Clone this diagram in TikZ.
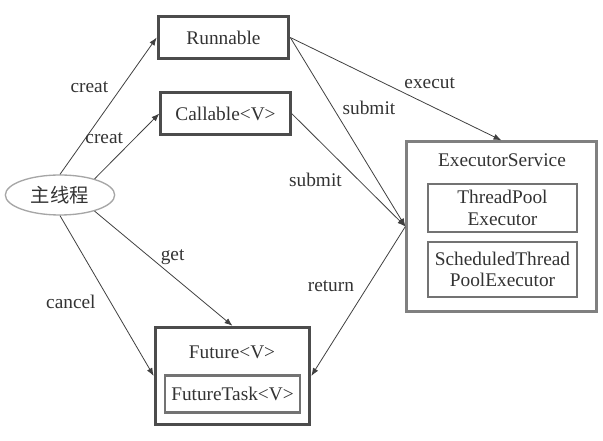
\documentclass[tikz,border=0pt]{standalone}
\usepackage{fontspec}
\setmainfont{Liberation Serif}
\newfontfamily\cjk{Noto Sans CJK SC}
\usetikzlibrary{arrows.meta}
\usetikzlibrary{shapes.geometric}

\begin{document}
\begin{tikzpicture}[x = 0.75pt, y = -0.75pt, font = \rmfamily\fontsize{14.5}{17}\selectfont, text = black!80]
  \tikzstyle{box}=[rectangle, draw = black!70, line width = 2.2pt, inner sep = 0pt, align = center]
  \tikzstyle{inbox}=[rectangle, draw = black!55, line width = 1.8pt, inner sep = 0pt, align = center]
  \tikzstyle{outer}=[rectangle, draw = black!50, line width = 2.2pt, inner sep = 0pt]
  \tikzstyle{thread}=[ellipse, draw = black!35, line width = 1pt, inner sep = 0pt, font = \cjk\fontsize{14.5}{17}\selectfont]
  \tikzstyle{connect}=[-{Latex[length = 6pt, width = 4.5pt]}, draw = black!75, line width = 0.6pt]
  \tikzstyle{lbl}=[inner sep = 2pt, text = black!80, font = \rmfamily\fontsize{14.5}{17}\selectfont]

  \useasboundingbox (0,0) rectangle (603,441);

  \node[thread, minimum width = 82pt, minimum height = 30pt] (main) at (60,195) {主线程};
  \node[box, minimum width = 98pt, minimum height = 31pt] (run) at (223.5,37.5) {Runnable};
  \node[box, minimum width = 97pt, minimum height = 31pt] (call) at (225.5,113.5) {Callable<V>};

  \node[box, minimum width = 116pt, minimum height = 73pt] (fut) at (232.5,376) {};
  \node[lbl] (futname) at (232,352) {Future<V>};
  \node[inbox, minimum width = 101pt, minimum height = 28pt] (futtask) at (232.5,394) {FutureTask<V>};

  \node[outer, minimum width = 142pt, minimum height = 127pt] (exec) at (501.5,226.5) {};
  \node[lbl] (execname) at (502,160) {ExecutorService};
  \node[inbox, minimum width = 112pt, minimum height = 36pt] (tpe) at (502.5,208) {ThreadPool\\[-1pt]Executor};
  \node[inbox, minimum width = 112pt, minimum height = 41pt] (ste) at (502.5,269.5) {ScheduledThread\\[-1pt]PoolExecutor};

  \draw[connect] (main.north) -- node[lbl, pos = 0.64, left = 8pt] {creat} (run.west);
  \draw[connect] (main.25) -- node[lbl, pos = 0.63, left = 7pt] {creat} (call.west);
  \draw[connect] (main.-25) -- node[lbl, pos = 0.4, right = 6pt] {get} (fut.north);
  \draw[connect] (main.south) -- node[lbl, pos = 0.54, left = 9pt] {cancel} (fut.west);

  \draw[connect] (run.east) -- node[lbl, pos = 0.66, above = 10pt] {execut} (exec.north);
  \draw[connect] (run.east) -- node[lbl, pos = 0.37, right = 5pt] {submit} (exec.west);
  \draw[connect] (call.east) -- node[lbl, pos = 0.585, left = 10pt] {submit} (exec.west);

  \draw[connect] (exec.west) -- node[lbl, pos = 0.4, left = 8pt] {return} (fut.east);

\end{tikzpicture}
\end{document}
